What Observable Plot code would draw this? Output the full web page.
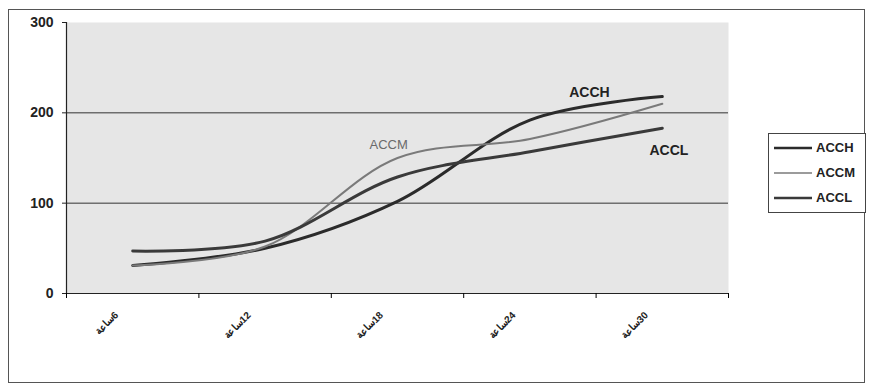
<!DOCTYPE html>
<html>
<head>
<meta charset="utf-8">
<script src="https://cdn.jsdelivr.net/npm/d3@7"></script>
<script src="https://cdn.jsdelivr.net/npm/@observablehq/plot@0.6"></script>
<style>
  html, body { margin: 0; padding: 0; background: #fff; }
  #wrap { position: relative; width: 873px; height: 385px; overflow: hidden; }
  #frame { position: absolute; left: 8px; top: 9px; width: 857px; height: 374px; border: 1.5px solid #555; box-sizing: border-box; pointer-events: none; }
  #legend { position: absolute; left: 768px; top: 133px; width: 98px; height: 80px; border: 1px solid #444; box-sizing: border-box; background: #fff;
    font-family: "Liberation Sans", Arial, sans-serif; font-weight: bold; font-size: 13px; color: #222; }
  .item { position: absolute; left: 5px; display: flex; align-items: center; }
  .item svg { margin-right: 4px; }
</style>
</head>
<body>
<div id="wrap">
  <div id="chart"></div>
  <div id="frame"></div>
  <div id="legend"></div>
</div>
<script>
// ---- data ----
const hours = [6, 12, 18, 24, 30];
const tickLabels = ["ساعة\u200E6", "ساعة\u200E12", "ساعة\u200E18", "ساعة\u200E24", "ساعة\u200E30"];
const seriesNames = ["ACCH", "ACCM", "ACCL"];
const accH = [31, 50, 102, 192, 218];
const accM = [31, 52, 150, 171, 210];
const accL = [47, 58, 129, 157, 183];
const yTicks = [0, 100, 200, 300];
// inline annotation positions (data units)
const annoNames = ["ACCH", "ACCM", "ACCL"];
const annoX = [26.7, 17.6, 30.3];
const annoY = [222, 165, 158];

// ---- styles ----
const strokes = {ACCH: "#2b2b2b", ACCM: "#7a7a7a", ACCL: "#3a3a3a"};
const widths = {ACCH: 3, ACCM: 2, ACCL: 3};

const seriesValues = {ACCH: accH, ACCM: accM, ACCL: accL};
const rows = seriesNames.flatMap(s => hours.map((h, i) => ({series: s, hour: h, value: seriesValues[s][i]})));
const step = hours[1] - hours[0];
const boundaries = [...hours.map(h => h - step / 2), hours[hours.length - 1] + step / 2];
const labelOf = new Map(hours.map((h, i) => [h, tickLabels[i]]));
const annos = annoNames.map((n, i) => ({name: n, x: annoX[i], y: annoY[i]}));

const chart = Plot.plot({
  width: 873,
  height: 385,
  marginLeft: 66,
  marginRight: 145,
  marginTop: 22,
  marginBottom: 92,
  style: {fontFamily: "'Liberation Sans', Arial, sans-serif", background: "transparent"},
  x: {type: "linear", domain: [boundaries[0], boundaries[boundaries.length - 1]]},
  y: {domain: [0, 300]},
  marks: [
    Plot.frame({fill: "#e6e6e6", stroke: "none"}),
    Plot.ruleY([100, 200], {stroke: "#333", strokeWidth: 1}),
    Plot.ruleY([0], {stroke: "#222", strokeWidth: 1.2}),
    Plot.ruleX([boundaries[0]], {stroke: "#222", strokeWidth: 1.2}),
    Plot.axisY({ticks: yTicks, tickSize: 4, tickPadding: 9, fontSize: 14, fontWeight: "bold", label: null, tickFormat: d => String(d), color: "#222"}),
    Plot.axisX({ticks: boundaries, tickSize: 5, tickFormat: () => "", label: null}),
    Plot.axisX({ticks: hours, tickSize: 0, tickPadding: 20, tickRotate: -45, tickFormat: d => labelOf.get(d), label: null, fontSize: 10, fontWeight: "bold", dx: -16, color: "#222"}),
    ...seriesNames.map(s => Plot.line(rows.filter(r => r.series === s), {
      x: "hour", y: "value", curve: "catmull-rom", stroke: strokes[s], strokeWidth: widths[s]
    })),
    Plot.text(annos.filter(d => d.name !== "ACCM"), {x: "x", y: "y", text: "name", fontSize: 14, fontWeight: "bold", fill: "#222"}),
    Plot.text(annos.filter(d => d.name === "ACCM"), {x: "x", y: "y", text: "name", fontSize: 13, fill: "#6a6a6a"})
  ]
});
document.getElementById("chart").appendChild(chart);

// legend
const legend = document.getElementById("legend");
seriesNames.forEach((s, i) => {
  const div = document.createElement("div");
  div.className = "item";
  div.style.top = (6 + i * 25) + "px";
  div.innerHTML = `<svg width="38" height="14"><line x1="0" x2="38" y1="7" y2="7" stroke="${strokes[s]}" stroke-width="${widths[s] - 0.5}"/></svg><span>${s}</span>`;
  legend.appendChild(div);
});
</script>
</body>
</html>
